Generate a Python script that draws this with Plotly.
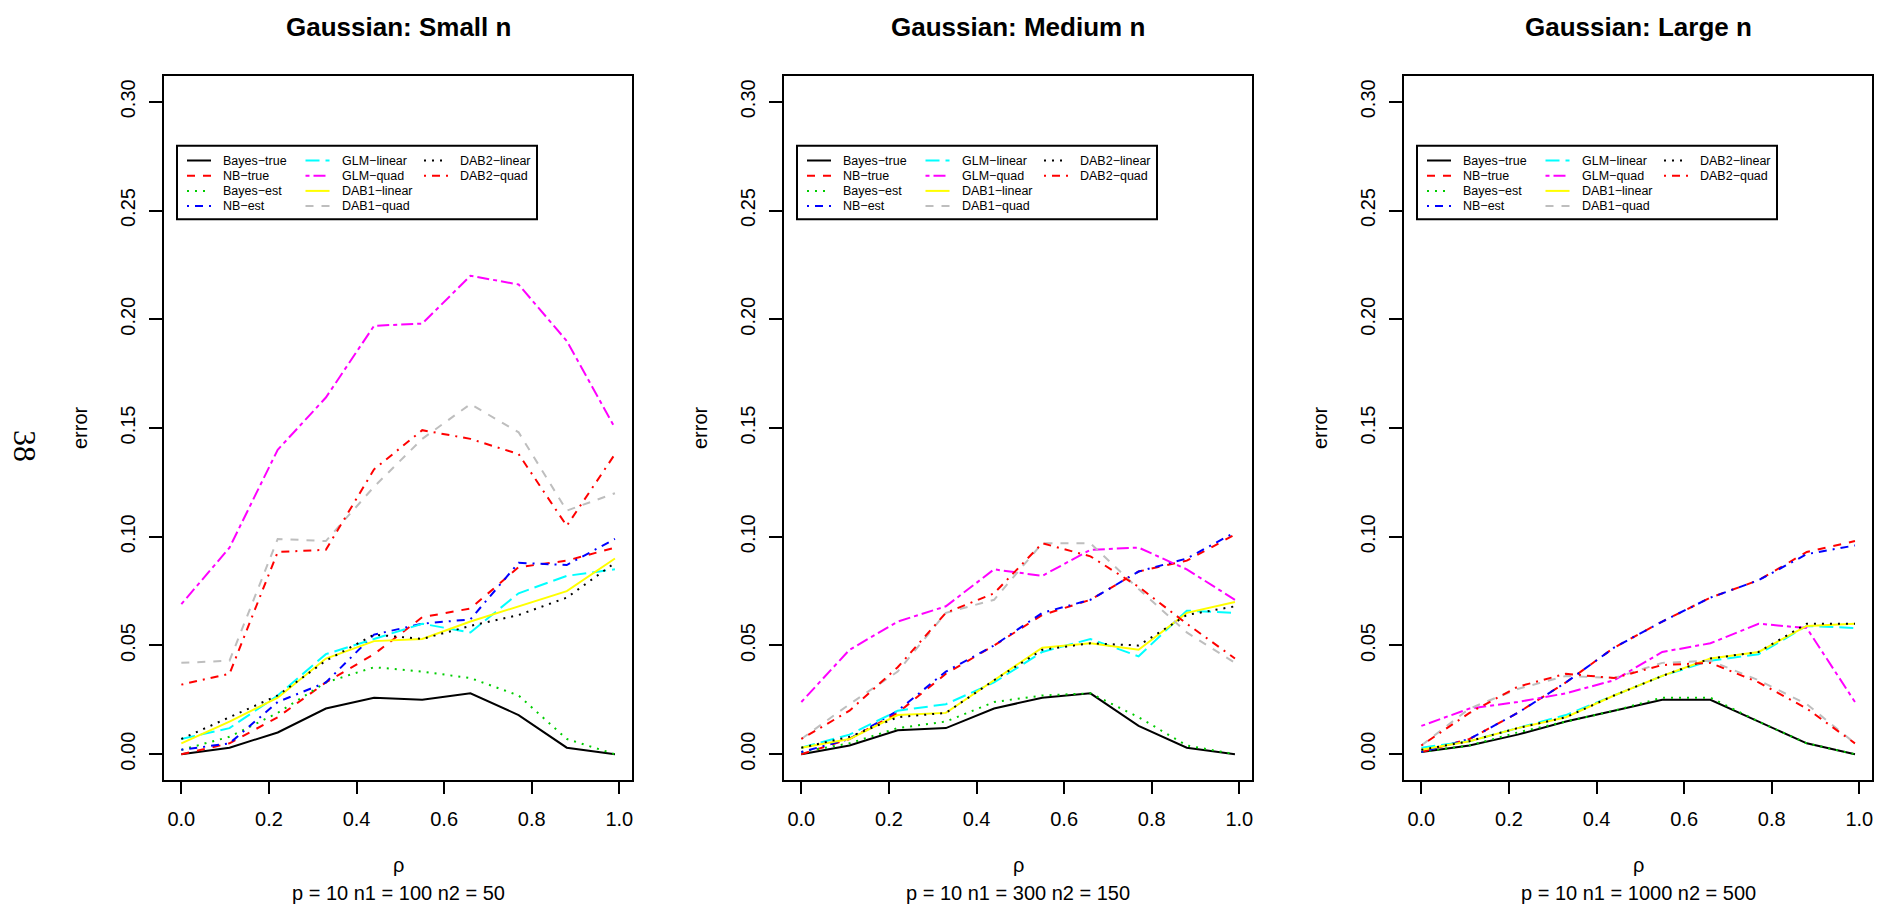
import plotly.graph_objects as go

# correlation grid shared by all panels
rho = [0.00, 0.11, 0.22, 0.33, 0.44, 0.55, 0.66, 0.77, 0.88, 0.99]

methods = ["Bayes\u2212true", "NB\u2212true", "Bayes\u2212est", "NB\u2212est", "GLM\u2212linear",
           "GLM\u2212quad", "DAB1\u2212linear", "DAB1\u2212quad", "DAB2\u2212linear", "DAB2\u2212quad"]

panel_titles = ["Gaussian: Small n", "Gaussian: Medium n", "Gaussian: Large n"]
panel_subs = ["p = 10 n1 = 100 n2 = 50", "p = 10 n1 = 300 n2 = 150", "p = 10 n1 = 1000 n2 = 500"]

x_ticks = [0.0, 0.2, 0.4, 0.6, 0.8, 1.0]
x_tick_text = ["0.0", "0.2", "0.4", "0.6", "0.8", "1.0"]
y_ticks = [0.00, 0.05, 0.10, 0.15, 0.20, 0.25, 0.30]
y_tick_text = ["0.00", "0.05", "0.10", "0.15", "0.20", "0.25", "0.30"]

# small n
bayes_true_s = [0.000, 0.003, 0.010, 0.021, 0.026, 0.025, 0.028, 0.018, 0.003, 0.000]
nb_true_s = [0.000, 0.005, 0.017, 0.033, 0.046, 0.063, 0.067, 0.086, 0.089, 0.095]
bayes_est_s = [0.002, 0.008, 0.019, 0.033, 0.040, 0.038, 0.035, 0.027, 0.007, 0.000]
nb_est_s = [0.002, 0.005, 0.024, 0.033, 0.055, 0.060, 0.062, 0.088, 0.087, 0.099]
glm_lin_s = [0.007, 0.012, 0.027, 0.046, 0.053, 0.060, 0.056, 0.074, 0.082, 0.085]
glm_quad_s = [0.069, 0.095, 0.140, 0.164, 0.197, 0.198, 0.220, 0.216, 0.190, 0.150]
dab1_lin_s = [0.005, 0.015, 0.026, 0.044, 0.052, 0.053, 0.061, 0.068, 0.075, 0.090]
dab1_quad_s = [0.042, 0.043, 0.099, 0.098, 0.123, 0.145, 0.161, 0.148, 0.112, 0.120]
dab2_lin_s = [0.007, 0.017, 0.027, 0.043, 0.055, 0.053, 0.059, 0.064, 0.072, 0.088]
dab2_quad_s = [0.032, 0.037, 0.093, 0.094, 0.131, 0.149, 0.145, 0.138, 0.105, 0.138]

# medium n
bayes_true_m = [0.000, 0.004, 0.011, 0.012, 0.021, 0.026, 0.028, 0.013, 0.003, 0.000]
nb_true_m = [0.000, 0.007, 0.019, 0.037, 0.050, 0.064, 0.071, 0.084, 0.089, 0.101]
bayes_est_m = [0.001, 0.005, 0.012, 0.015, 0.024, 0.027, 0.028, 0.017, 0.004, 0.000]
nb_est_m = [0.001, 0.007, 0.020, 0.038, 0.050, 0.065, 0.071, 0.084, 0.090, 0.102]
glm_lin_m = [0.003, 0.009, 0.020, 0.023, 0.033, 0.047, 0.053, 0.045, 0.066, 0.065]
glm_quad_m = [0.024, 0.048, 0.061, 0.068, 0.085, 0.082, 0.094, 0.095, 0.085, 0.071]
dab1_lin_m = [0.003, 0.007, 0.018, 0.019, 0.034, 0.049, 0.051, 0.048, 0.065, 0.070]
dab1_quad_m = [0.007, 0.023, 0.038, 0.065, 0.071, 0.097, 0.097, 0.076, 0.056, 0.042]
dab2_lin_m = [0.003, 0.008, 0.017, 0.019, 0.034, 0.048, 0.051, 0.050, 0.064, 0.068]
dab2_quad_m = [0.007, 0.020, 0.040, 0.065, 0.074, 0.097, 0.091, 0.077, 0.060, 0.044]

# large n
bayes_true_l = [0.001, 0.004, 0.009, 0.015, 0.020, 0.025, 0.025, 0.015, 0.005, 0.000]
nb_true_l = [0.001, 0.007, 0.019, 0.033, 0.049, 0.061, 0.072, 0.080, 0.093, 0.098]
bayes_est_l = [0.001, 0.004, 0.010, 0.015, 0.020, 0.026, 0.026, 0.015, 0.005, 0.000]
nb_est_l = [0.001, 0.007, 0.019, 0.033, 0.049, 0.061, 0.072, 0.080, 0.092, 0.096]
glm_lin_l = [0.003, 0.006, 0.012, 0.018, 0.027, 0.036, 0.043, 0.046, 0.059, 0.058]
glm_quad_l = [0.013, 0.021, 0.024, 0.028, 0.034, 0.047, 0.051, 0.060, 0.058, 0.024]
dab1_lin_l = [0.002, 0.006, 0.012, 0.017, 0.027, 0.036, 0.044, 0.047, 0.059, 0.060]
dab1_quad_l = [0.004, 0.021, 0.030, 0.036, 0.035, 0.042, 0.043, 0.034, 0.023, 0.005]
dab2_lin_l = [0.002, 0.006, 0.012, 0.017, 0.027, 0.036, 0.044, 0.047, 0.060, 0.060]
dab2_quad_l = [0.004, 0.019, 0.031, 0.037, 0.035, 0.041, 0.042, 0.033, 0.021, 0.005]

panels = [
    [bayes_true_s, nb_true_s, bayes_est_s, nb_est_s, glm_lin_s,
     glm_quad_s, dab1_lin_s, dab1_quad_s, dab2_lin_s, dab2_quad_s],
    [bayes_true_m, nb_true_m, bayes_est_m, nb_est_m, glm_lin_m,
     glm_quad_m, dab1_lin_m, dab1_quad_m, dab2_lin_m, dab2_quad_m],
    [bayes_true_l, nb_true_l, bayes_est_l, nb_est_l, glm_lin_l,
     glm_quad_l, dab1_lin_l, dab1_quad_l, dab2_lin_l, dab2_quad_l],
]

# R base palette col = 1:10 and lty = 1:6 recycled
colors = ["#000000", "#FF0000", "#00CD00", "#0000FF", "#00FFFF",
          "#FF00FF", "#FFFF00", "#BEBEBE", "#000000", "#FF0000"]
solid = "solid"
dashed = "8px,8px"
dotted = "2px,6px"
dotdash = "2px,6px,8px,6px"
longdash = "14px,6px"
twodash = "4px,4px,12px,4px"
dashes = [solid, dashed, dotted, dotdash, longdash, twodash, solid, dashed, dotted, dotdash]

W, H = 1877, 905
FONT = "Liberation Sans, Arial, Helvetica, sans-serif"


def fx(px):
    return px / W


def fy(py):
    return 1 - py / H


box_left0, box_right0 = 164.0, 632.3
box_top, box_bottom = 75.7, 780.3
panel_step = 620.0

fig = go.Figure()
layout = dict(
    width=W, height=H,
    margin=dict(l=0, r=0, t=0, b=0),
    paper_bgcolor="white", plot_bgcolor="white",
    showlegend=False,
    font=dict(family=FONT, color="black", size=20),
)

annotations = []
shapes = []

for k in range(3):
    left = box_left0 + k * panel_step
    right = box_right0 + k * panel_step
    xa = "xaxis" if k == 0 else f"xaxis{k + 1}"
    ya = "yaxis" if k == 0 else f"yaxis{k + 1}"
    xr = "x" if k == 0 else f"x{k + 1}"
    yr = "y" if k == 0 else f"y{k + 1}"

    layout[xa] = dict(
        domain=[fx(left), fx(right)], range=[-0.0396, 1.0296], anchor=yr,
        showgrid=False, zeroline=False, showline=True, mirror=True,
        linecolor="black", linewidth=2,
        ticks="outside", ticklen=12, tickwidth=2, tickcolor="black",
        tickvals=x_ticks, ticktext=x_tick_text,
        tickfont=dict(family=FONT, size=20, color="black"),
        ticklabelstandoff=8,
    )
    layout[ya] = dict(
        domain=[fy(box_bottom), fy(box_top)], range=[-0.012, 0.312], anchor=xr,
        showgrid=False, zeroline=False, showline=True, mirror=True,
        linecolor="black", linewidth=2,
        ticks="outside", ticklen=13, tickwidth=2, tickcolor="black",
        tickvals=y_ticks, ticktext=y_tick_text, tickangle=-90,
        tickfont=dict(family=FONT, size=20, color="black"),
        ticklabelstandoff=6,
    )

    for i, ys in enumerate(panels[k]):
        fig.add_trace(go.Scatter(
            x=rho, y=ys, mode="lines", name=methods[i],
            line=dict(color=colors[i], width=2, dash=dashes[i]),
            xaxis=xr, yaxis=yr,
        ))

    cx = (left + right) / 2
    annotations.append(dict(text=f"<b>{panel_titles[k]}</b>", x=fx(cx), y=fy(27),
                            xref="paper", yref="paper", showarrow=False,
                            xanchor="center", yanchor="middle",
                            font=dict(family=FONT, size=26, color="black")))
    annotations.append(dict(text="\u03c1", x=fx(cx), y=fy(865),
                            xref="paper", yref="paper", showarrow=False,
                            xanchor="center", yanchor="middle",
                            font=dict(family=FONT, size=20, color="black")))
    annotations.append(dict(text=panel_subs[k], x=fx(cx), y=fy(893),
                            xref="paper", yref="paper", showarrow=False,
                            xanchor="center", yanchor="middle",
                            font=dict(family=FONT, size=20, color="black")))
    annotations.append(dict(text="error", x=fx(left - 84), y=fy(428),
                            xref="paper", yref="paper", showarrow=False,
                            textangle=-90, xanchor="center", yanchor="middle",
                            font=dict(family=FONT, size=20, color="black")))

    # legend box: three columns, four rows
    lg_left = left + 13
    lg_right = left + 373
    shapes.append(dict(type="rect", xref="paper", yref="paper",
                       x0=fx(lg_left), x1=fx(lg_right), y0=fy(219.3), y1=fy(145.7),
                       line=dict(color="black", width=2), fillcolor="white", layer="below"))
    for i, name in enumerate(methods):
        col, row = divmod(i, 4)
        yy = 160.5 + 15.2 * row
        x0 = left + 23 + 118.5 * col
        shapes.append(dict(type="line", xref="paper", yref="paper",
                           x0=fx(x0), x1=fx(x0 + 24), y0=fy(yy), y1=fy(yy),
                           line=dict(color=colors[i], width=2, dash=dashes[i])))
        annotations.append(dict(text=name, x=fx(left + 57 + 118.5 * col), y=fy(yy),
                                xref="paper", yref="paper", showarrow=False,
                                xanchor="left", yanchor="middle",
                                font=dict(family=FONT, size=12.5, color="black")))

# page number printed sideways at the left margin
annotations.append(dict(text="38", x=fx(25), y=fy(446), xref="paper", yref="paper",
                        showarrow=False, textangle=90, xanchor="center", yanchor="middle",
                        font=dict(family="Liberation Serif, Times New Roman, serif",
                                  size=32, color="black")))

layout["annotations"] = annotations
layout["shapes"] = shapes
fig.update_layout(**layout)
fig.write_html("out.html")
